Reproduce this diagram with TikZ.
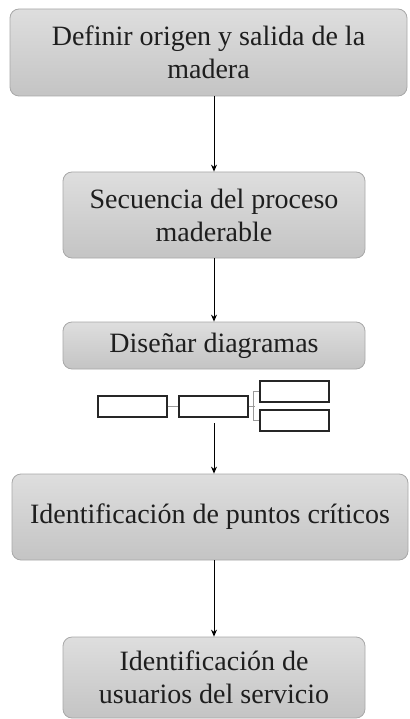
\documentclass[tikz,border=0pt]{standalone}
\usepackage{fontspec}
\setmainfont{Liberation Serif}
\usetikzlibrary{arrows.meta}
\definecolor{boxtop}{HTML}{DEDEDE}
\definecolor{boxbot}{HTML}{C4C4C4}
\definecolor{boxline}{HTML}{A8A8A8}
\definecolor{linkgray}{HTML}{9A9A9A}
\definecolor{textdark}{HTML}{1E1E1E}
\tikzset{
  stepbox/.style={draw=boxline, line width=0.8pt, rounded corners=9pt,
    top color=boxtop, bottom color=boxbot, align=center, inner sep=0pt,
    text=textdark, font=\fontsize{28}{33}\selectfont},
  flowarrow/.style={draw=black, line width=0.9pt, -{Stealth[length=7pt,width=6pt]}},
  minibox/.style={draw=black!85, line width=1.3pt, fill=white, minimum width=69pt, minimum height=21pt, inner sep=0pt},
  minilink/.style={draw=linkgray, line width=1pt}
}
\begin{document}
\begin{tikzpicture}[x=1pt,y=1pt]
\useasboundingbox (0,0) rectangle (409,-719);
\node[stepbox, minimum width=397pt, minimum height=87pt] (b1) at (208.5,-52.5) {Definir origen y salida de la\\madera};
\node[stepbox, minimum width=302pt, minimum height=86pt] (b2) at (214,-215) {Secuencia del proceso\\maderable};
\node[stepbox, minimum width=302pt, minimum height=47pt] (b3) at (214,-345.5) {Diseñar diagramas};
\node[stepbox, minimum width=396pt, minimum height=86pt] (b4) at (210,-517) {Identificación de puntos críticos};
\node[stepbox, minimum width=302pt, minimum height=81pt] (b5) at (214,-677.5) {Identificación de\\usuarios del servicio};
% mini diagram
\node[minibox] (sa) at (132.5,-406.5) {};
\node[minibox] (sb) at (213.5,-406.5) {};
\node[minibox] (sc) at (294.5,-391.5) {};
\node[minibox] (sd) at (294.5,-420.5) {};
\draw[minilink] (sa.east) -- (sb.west);
\draw[minilink] (sb.east) -- ++(6,0);
\draw[minilink] (sc.west) -- ++(-6,0) |- (sd.west);
\coordinate (a3) at (214,-423);
% arrows
\draw[flowarrow] (b1.south -| b2.north) -- (b2.north);
\draw[flowarrow] (b2.south) -- (b3.north);
\draw[flowarrow] (a3) -- (b4.north -| a3);
\draw[flowarrow] (b4.south -| b5.north) -- (b5.north);
\end{tikzpicture}
\end{document}
